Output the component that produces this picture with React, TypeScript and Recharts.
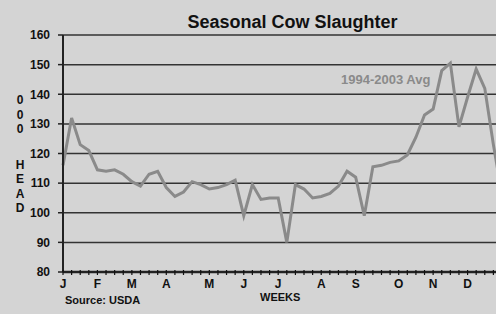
import { LineChart, Line, XAxis, YAxis, CartesianGrid } from "recharts";

const weeks = Array.from({ length: 52 }, (_, i) => i + 1);

const avg9403 = [
  116, 132, 123, 121, 114.5, 114, 114.5, 113, 110.5, 109,
  113, 114, 108.5, 105.5, 107, 110.5, 109.5, 108, 108.5, 109.5,
  111, 99, 109.5, 104.5, 105, 105, 90, 109.5, 108, 105,
  105.5, 106.5, 109, 114, 112, 99, 115.5, 116, 117, 117.5,
  119.5, 125.5, 133, 135, 148, 150.5, 129, 139, 148.5, 142,
  123, 106,
];

// week number -> month initial shown under the axis
const monthTicks: Record<number, string> = {
  1: "J", 5: "F", 9: "M", 13: "A", 18: "M", 22: "J",
  26: "J", 31: "A", 35: "S", 40: "O", 44: "N", 48: "D",
};

const yTicks = [80, 90, 100, 110, 120, 130, 140, 150, 160];
const yTitleTop = ["0", "0", "0"];
const yTitleBottom = ["H", "E", "A", "D"];

const data = weeks.map((w, i) => ({ week: w, avg: avg9403[i] }));

const FONT = "Arial, 'Liberation Sans', Helvetica, sans-serif";

function WeekTick(props: any) {
  const { x, y, payload } = props;
  const label = monthTicks[payload.value] ?? "";
  return (
    <g>
      <line x1={x} x2={x} y1={y - 2} y2={y + 3} stroke="#111" strokeWidth={1.2} />
      {label && (
        <text
          x={x}
          y={y + 16}
          textAnchor="middle"
          fontSize={12}
          fontWeight="bold"
          fontFamily={FONT}
          fill="#111"
        >
          {label}
        </text>
      )}
    </g>
  );
}

const letter = (c: string, top: number) => (
  <div
    key={top}
    style={{
      position: "absolute",
      left: 14,
      top,
      width: 12,
      textAlign: "center",
      fontSize: 12,
      fontWeight: "bold",
      color: "#111",
      lineHeight: "14px",
    }}
  >
    {c}
  </div>
);

export default function App() {
  return (
    <div
      style={{
        position: "absolute",
        left: 0,
        top: 0,
        width: 496,
        height: 314,
        overflow: "hidden",
        background: "#d4d4d4",
        fontFamily: FONT,
      }}
    >
      <LineChart
        width={510}
        height={314}
        data={data}
        margin={{ top: 35, right: 8, bottom: 0, left: 0 }}
      >
        <CartesianGrid horizontal vertical={false} stroke="#333" strokeWidth={1.5} />
        <XAxis
          dataKey="week"
          type="number"
          domain={[1, 52]}
          ticks={weeks}
          interval={0}
          height={42}
          tickSize={0}
          tickMargin={0}
          tickLine={false}
          axisLine={{ stroke: "#222", strokeWidth: 2.5 }}
          tick={<WeekTick />}
        />
        <YAxis
          domain={[80, 160]}
          ticks={yTicks}
          interval={0}
          width={63}
          tickSize={5}
          tickMargin={8}
          axisLine={{ stroke: "#222", strokeWidth: 2 }}
          tickLine={{ stroke: "#222", strokeWidth: 1.5 }}
          tick={{ fontSize: 12, fontWeight: "bold", fill: "#111", fontFamily: FONT }}
        />
        <Line
          type="linear"
          dataKey="avg"
          stroke="#8a8a8a"
          strokeWidth={3}
          dot={false}
          isAnimationActive={false}
        />
      </LineChart>

      <div
        style={{
          position: "absolute",
          left: 0,
          width: 585,
          top: 12,
          textAlign: "center",
          fontSize: 18,
          fontWeight: "bold",
          color: "#111",
        }}
      >
        Seasonal Cow Slaughter
      </div>

      <div
        style={{
          position: "absolute",
          left: 341,
          top: 72,
          fontSize: 13,
          fontWeight: "bold",
          color: "#8a8a8a",
        }}
      >
        1994-2003 Avg
      </div>

      {yTitleTop.map((c, i) => letter(c, 93 + i * 14.5))}
      {yTitleBottom.map((c, i) => letter(c, 158 + i * 14.3))}

      <div
        style={{
          position: "absolute",
          left: 260,
          top: 291,
          fontSize: 11,
          lineHeight: "13px",
          fontWeight: "bold",
          color: "#111",
        }}
      >
        WEEKS
      </div>

      <div
        style={{
          position: "absolute",
          left: 65,
          top: 294,
          fontSize: 11,
          lineHeight: "13px",
          fontWeight: "bold",
          color: "#111",
        }}
      >
        Source: USDA
      </div>
    </div>
  );
}
